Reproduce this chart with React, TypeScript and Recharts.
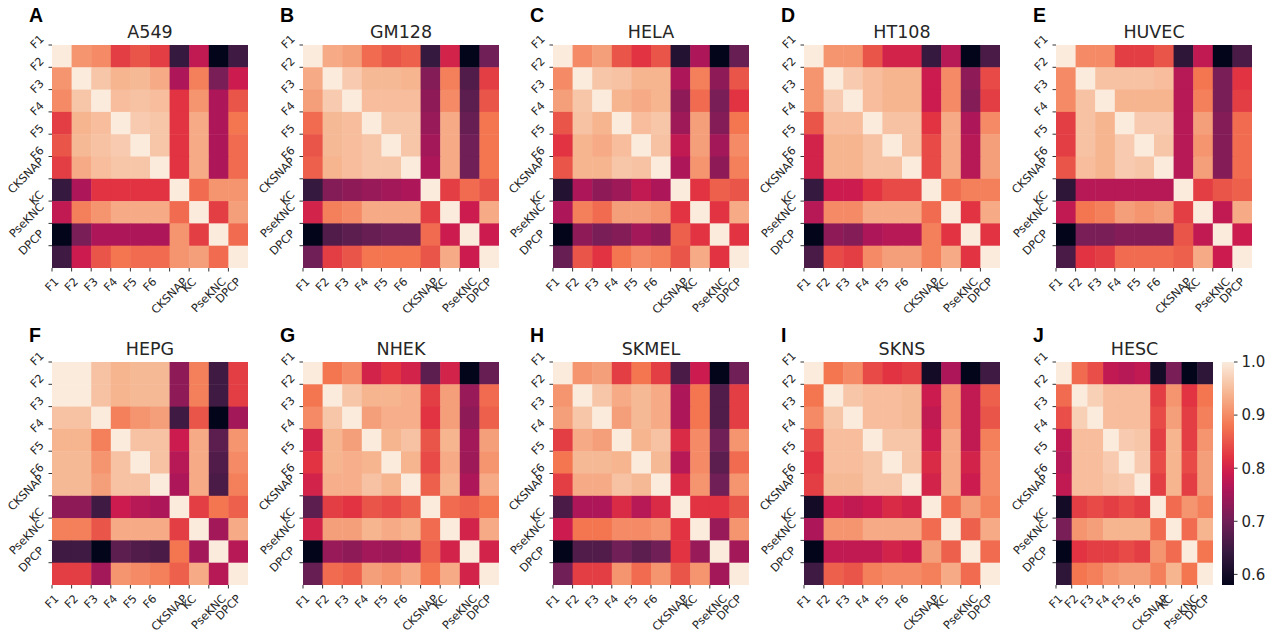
import React from 'react';
import { ScatterChart, Scatter, XAxis, YAxis, ReferenceArea } from 'recharts';

const FEATURES = ['F1', 'F2', 'F3', 'F4', 'F5', 'F6', 'CKSNAP', 'KC', 'PseKNC', 'DPCP'];
const PANEL_LETTERS = ['A', 'B', 'C', 'D', 'E', 'F', 'G', 'H', 'I', 'J'];
const CELL_LINES = ['A549', 'GM128', 'HELA', 'HT108', 'HUVEC', 'HEPG', 'NHEK', 'SKMEL', 'SKNS', 'HESC'];
const COLORBAR_TICKS = [0.6, 0.7, 0.8, 0.9, 1.0];
const V_MIN = 0.58;
const V_MAX = 1.0;

// Lower-triangular correlation matrices (row i holds columns 0..i)
const A549 = [
  [1],
  [0.91, 1],
  [0.9, 0.96, 1],
  [0.83, 0.94, 0.95, 1],
  [0.85, 0.945, 0.955, 0.965, 1],
  [0.83, 0.93, 0.95, 0.96, 0.96, 1],
  [0.64, 0.76, 0.82, 0.82, 0.82, 0.82, 1],
  [0.78, 0.89, 0.91, 0.93, 0.93, 0.93, 0.87, 1],
  [0.58, 0.71, 0.76, 0.76, 0.76, 0.76, 0.91, 0.83, 1],
  [0.65, 0.79, 0.85, 0.88, 0.87, 0.87, 0.91, 0.92, 0.87, 1],
];
const GM128 = [
  [1],
  [0.93, 1],
  [0.92, 0.965, 1],
  [0.87, 0.945, 0.95, 1],
  [0.85, 0.945, 0.95, 0.96, 1],
  [0.86, 0.94, 0.95, 0.96, 0.96, 1],
  [0.64, 0.72, 0.73, 0.74, 0.75, 0.76, 1],
  [0.8, 0.89, 0.9, 0.93, 0.93, 0.93, 0.83, 1],
  [0.58, 0.67, 0.68, 0.69, 0.7, 0.7, 0.87, 0.79, 1],
  [0.7, 0.83, 0.85, 0.88, 0.88, 0.88, 0.85, 0.93, 0.79, 1],
];
const HELA = [
  [1],
  [0.9, 1],
  [0.92, 0.96, 1],
  [0.85, 0.955, 0.94, 1],
  [0.82, 0.94, 0.93, 0.95, 1],
  [0.85, 0.94, 0.94, 0.96, 0.955, 1],
  [0.62, 0.76, 0.73, 0.745, 0.78, 0.76, 1],
  [0.76, 0.89, 0.87, 0.92, 0.92, 0.91, 0.82, 1],
  [0.58, 0.73, 0.71, 0.72, 0.75, 0.73, 0.86, 0.82, 1],
  [0.69, 0.85, 0.82, 0.88, 0.9, 0.89, 0.85, 0.93, 0.82, 1],
];
const HT108 = [
  [1],
  [0.91, 1],
  [0.91, 0.965, 1],
  [0.85, 0.95, 0.95, 1],
  [0.8, 0.94, 0.94, 0.955, 1],
  [0.8, 0.94, 0.94, 0.955, 0.955, 1],
  [0.64, 0.79, 0.79, 0.82, 0.84, 0.84, 1],
  [0.77, 0.9, 0.9, 0.93, 0.93, 0.93, 0.87, 1],
  [0.58, 0.73, 0.72, 0.76, 0.77, 0.77, 0.89, 0.82, 1],
  [0.66, 0.84, 0.83, 0.9, 0.92, 0.92, 0.89, 0.93, 0.82, 1],
];
const HUVEC = [
  [1],
  [0.9, 1],
  [0.9, 0.955, 1],
  [0.83, 0.955, 0.94, 1],
  [0.83, 0.955, 0.94, 0.965, 1],
  [0.85, 0.95, 0.94, 0.965, 0.96, 1],
  [0.63, 0.77, 0.77, 0.77, 0.77, 0.77, 1],
  [0.78, 0.88, 0.89, 0.92, 0.91, 0.92, 0.83, 1],
  [0.58, 0.71, 0.71, 0.72, 0.72, 0.72, 0.85, 0.78, 1],
  [0.66, 0.82, 0.83, 0.87, 0.87, 0.87, 0.86, 0.93, 0.79, 1],
];
const HEPG = [
  [1],
  [1.0, 1],
  [0.955, 0.955, 1],
  [0.94, 0.94, 0.89, 1],
  [0.945, 0.945, 0.91, 0.955, 1],
  [0.945, 0.945, 0.92, 0.955, 0.955, 1],
  [0.73, 0.73, 0.65, 0.79, 0.77, 0.76, 1],
  [0.89, 0.89, 0.85, 0.93, 0.93, 0.93, 0.83, 1],
  [0.65, 0.65, 0.58, 0.68, 0.67, 0.66, 0.88, 0.75, 1],
  [0.83, 0.83, 0.75, 0.91, 0.9, 0.89, 0.86, 0.93, 0.77, 1],
];
const NHEK = [
  [1],
  [0.88, 1],
  [0.9, 0.96, 1],
  [0.8, 0.94, 0.92, 1],
  [0.82, 0.94, 0.935, 0.94, 1],
  [0.8, 0.935, 0.935, 0.955, 0.94, 1],
  [0.68, 0.83, 0.82, 0.85, 0.84, 0.86, 1],
  [0.8, 0.92, 0.92, 0.94, 0.93, 0.94, 0.87, 1],
  [0.58, 0.74, 0.73, 0.75, 0.745, 0.76, 0.86, 0.8, 1],
  [0.69, 0.87, 0.86, 0.92, 0.91, 0.93, 0.88, 0.93, 0.8, 1],
];
const SKMEL = [
  [1],
  [0.91, 1],
  [0.92, 0.96, 1],
  [0.83, 0.93, 0.92, 1],
  [0.88, 0.945, 0.945, 0.94, 1],
  [0.83, 0.93, 0.93, 0.955, 0.945, 1],
  [0.66, 0.76, 0.76, 0.81, 0.77, 0.81, 1],
  [0.79, 0.88, 0.88, 0.9, 0.9, 0.91, 0.82, 1],
  [0.58, 0.67, 0.67, 0.7, 0.68, 0.7, 0.82, 0.74, 1],
  [0.7, 0.83, 0.83, 0.91, 0.87, 0.91, 0.85, 0.91, 0.75, 1],
];
const SKNS = [
  [1],
  [0.88, 1],
  [0.9, 0.96, 1],
  [0.84, 0.95, 0.95, 1],
  [0.82, 0.95, 0.95, 0.96, 1],
  [0.83, 0.945, 0.945, 0.96, 0.96, 1],
  [0.6, 0.79, 0.78, 0.79, 0.81, 0.8, 1],
  [0.76, 0.91, 0.91, 0.93, 0.93, 0.93, 0.87, 1],
  [0.58, 0.78, 0.78, 0.78, 0.8, 0.79, 0.92, 0.86, 1],
  [0.65, 0.86, 0.85, 0.89, 0.9, 0.9, 0.89, 0.93, 0.87, 1],
];
const HESC = [
  [1],
  [0.87, 1],
  [0.845, 0.97, 1],
  [0.78, 0.95, 0.95, 1],
  [0.77, 0.95, 0.95, 0.965, 1],
  [0.78, 0.95, 0.95, 0.96, 0.965, 1],
  [0.6, 0.83, 0.84, 0.83, 0.84, 0.83, 1],
  [0.71, 0.91, 0.92, 0.94, 0.94, 0.94, 0.87, 1],
  [0.58, 0.82, 0.83, 0.83, 0.84, 0.83, 0.91, 0.87, 1],
  [0.63, 0.88, 0.89, 0.91, 0.92, 0.92, 0.89, 0.94, 0.88, 1],
];

const MATRICES = [A549, GM128, HELA, HT108, HUVEC, HEPG, NHEK, SKMEL, SKNS, HESC];

// layout
const COL_LEFTS = [52, 303, 553, 804, 1056];
const ROW_TOPS = [45, 362];
const MAP_W = 196;
const LAST_MAP_W = 157;
const MAP_H = 223;

// rocket colormap stops
const ROCKET: [number, string][] = [
  [0, '#03051a'],
  [0.143, '#35193e'],
  [0.286, '#701f57'],
  [0.429, '#ad1759'],
  [0.5, '#cb1b4f'],
  [0.571, '#e13342'],
  [0.714, '#f37651'],
  [0.857, '#f6b48f'],
  [1, '#faebdd'],
];

function hexToRgb(h: string) {
  return [parseInt(h.slice(1, 3), 16), parseInt(h.slice(3, 5), 16), parseInt(h.slice(5, 7), 16)];
}

function rocket(v: number) {
  let t = (v - V_MIN) / (V_MAX - V_MIN);
  t = Math.max(0, Math.min(1, t));
  for (let i = 0; i < ROCKET.length - 1; i++) {
    const [t0, c0] = ROCKET[i];
    const [t1, c1] = ROCKET[i + 1];
    if (t <= t1) {
      const f = (t - t0) / (t1 - t0);
      const a = hexToRgb(c0);
      const b = hexToRgb(c1);
      const c = a.map((x, k) => Math.round(x + (b[k] - x) * f));
      return `rgb(${c[0]},${c[1]},${c[2]})`;
    }
  }
  return ROCKET[ROCKET.length - 1][1];
}

function cellValue(m: number[][], r: number, c: number) {
  return c <= r ? m[r][c] : m[c][r];
}

const CHAR_W: Record<string, number> = {
  F: 0.575, C: 0.698, K: 0.656, S: 0.635, N: 0.748, A: 0.684, P: 0.603, s: 0.521, e: 0.615, D: 0.77,
};
function textW(s: string, fs: number) {
  let w = 0;
  for (const ch of s) w += CHAR_W[ch] ?? 0.636;
  return w * fs;
}

const TICK_FS = 11.3;
const FONT = '"DejaVu Sans", sans-serif';
const TICK_IDX = FEATURES.map((_, i) => i);

const XTick = (props: any) => {
  const { x, y, payload } = props;
  const label = FEATURES[payload.value];
  if (!label) return null;
  const L = textW(label, TICK_FS);
  const h = 1.1 * TICK_FS;
  const cy = y + 2 + 0.354 * (L + h);
  return (
    <text x={x} y={cy} textAnchor="middle" dominantBaseline="central" fontSize={TICK_FS} fontFamily={FONT} fill="#262626"
      transform={`rotate(-45 ${x} ${cy})`}>{label}</text>
  );
};

const YTick = (props: any) => {
  const { x, y, payload } = props;
  const label = FEATURES[payload.value];
  if (!label) return null;
  const L = textW(label, TICK_FS);
  const h = 1.1 * TICK_FS;
  const cx = x - 0.354 * (L + h);
  const cy = y - 3;
  return (
    <text x={cx} y={cy} textAnchor="middle" dominantBaseline="central" fontSize={TICK_FS} fontFamily={FONT} fill="#262626"
      transform={`rotate(-45 ${cx} ${cy})`}>{label}</text>
  );
};

function Heatmap({ matrix, left, top, width, height }: any) {
  const n = FEATURES.length;
  const cellW = width / n;
  const cellH = height / n;
  const data: any[] = [];
  for (let r = 0; r < n; r++) {
    for (let c = 0; c < n; c++) {
      data.push({ x: c + 0.5, y: r + 0.5, v: cellValue(matrix, r, c) });
    }
  }
  const shape = (p: any) => (
    <rect x={p.cx - cellW / 2} y={p.cy - cellH / 2} width={cellW + 0.5} height={cellH + 0.5} fill={rocket(p.payload.v)} />
  );
  return (
    <div style={{ position: 'absolute', left: left - 52, top: top - 45 }}>
      <ScatterChart width={52 + width + 4} height={45 + height + 50} margin={{ top: 45, right: 4, bottom: 0, left: 4 }}>
        <XAxis type="number" dataKey="x" domain={[0, n]} ticks={TICK_IDX} interval={0} axisLine={false}
          tickSize={3.5} stroke="#333" height={50} tick={XTick} allowDataOverflow />
        <YAxis type="number" dataKey="y" domain={[0, n]} reversed ticks={TICK_IDX} interval={0} axisLine={false}
          tickSize={3.5} stroke="#333" width={48} tick={YTick} allowDataOverflow />
        <Scatter data={data} shape={shape} isAnimationActive={false} />
      </ScatterChart>
    </div>
  );
}

const colorbarShape = (p: any) => (
  <g>
    <defs>
      <linearGradient id="rocketGrad" x1="0" y1="1" x2="0" y2="0">
        {ROCKET.map(([t, c]) => (
          <stop key={t} offset={t} stopColor={c} />
        ))}
      </linearGradient>
    </defs>
    <rect x={p.x} y={p.y} width={p.width} height={p.height} fill="url(#rocketGrad)" />
  </g>
);

function Colorbar({ left, top, height }: any) {
  const cbW = 12;
  return (
    <div style={{ position: 'absolute', left: left - 4, top: top - 45 }}>
      <ScatterChart width={4 + cbW + 50} height={45 + height + 50} margin={{ top: 45, right: 2, bottom: 50, left: 4 }}>
        <XAxis type="number" dataKey="x" domain={[0, 1]} hide />
        <YAxis type="number" dataKey="y" orientation="right" domain={[V_MIN, V_MAX]} ticks={COLORBAR_TICKS}
          interval={0} axisLine={false} tickSize={3.5} tickMargin={4} stroke="#333" width={48} allowDataOverflow
          tick={{ fontSize: 15, fontFamily: FONT, fill: '#262626' }} tickFormatter={(v: number) => v.toFixed(1)} />
        <ReferenceArea x1={0} x2={1} y1={V_MIN} y2={V_MAX} ifOverflow="visible" shape={colorbarShape} />
        <Scatter data={[{ x: 0.5, y: 0.8 }]} shape={() => <g />} isAnimationActive={false} />
      </ScatterChart>
    </div>
  );
}

export default function App() {
  const panels = MATRICES.map((m, i) => {
    const row = Math.floor(i / 5);
    const col = i % 5;
    const left = COL_LEFTS[col];
    const top = ROW_TOPS[row];
    const width = i === 9 ? LAST_MAP_W : MAP_W;
    return { m, i, left, top, width };
  });
  return (
    <div style={{ position: 'absolute', left: 0, top: 0, width: 1276, height: 636, background: '#fff', overflow: 'hidden' }}>
      {panels.map((p) => (
        <Heatmap key={p.i} matrix={p.m} left={p.left} top={p.top} width={p.width} height={MAP_H} />
      ))}
      <Colorbar left={1222} top={ROW_TOPS[1]} height={MAP_H} />
      <svg width={1276} height={636} style={{ position: 'absolute', left: 0, top: 0, pointerEvents: 'none' }}>
        {panels.map((p) => {
          const row = Math.floor(p.i / 5);
          return (
            <g key={p.i}>
              <text x={p.left - 23} y={row === 0 ? 22 : 342} fontFamily='"Liberation Sans", Arial, sans-serif'
                fontWeight="bold" fontSize={19.5} fill="#000">{PANEL_LETTERS[p.i]}</text>
              <text x={p.left + p.width / 2} y={row === 0 ? 38 : 355} textAnchor="middle" fontFamily={FONT}
                fontSize={17.5} fill="#262626">{CELL_LINES[p.i]}</text>
            </g>
          );
        })}
      </svg>
    </div>
  );
}
